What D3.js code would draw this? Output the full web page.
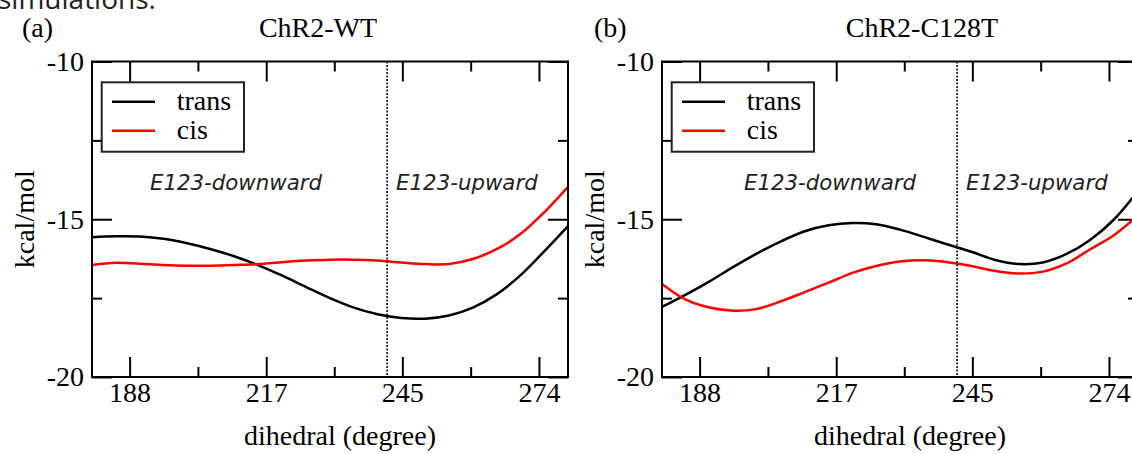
<!DOCTYPE html>
<html><head><meta charset="utf-8">
<script src="https://cdn.jsdelivr.net/npm/d3@7"></script>
<style>
body{margin:0;background:#fff;}
svg{display:block;}
</style>
</head><body>
<svg id="chart" width="1132" height="454"></svg>
<script>
// ---- data ----
const dihedral = [180,185,190,195,200,205,210,215,220,225,230,235,240,245,250,255,260,265,270,275,280];
const wtTrans  = [-15.57,-15.54,-15.55,-15.62,-15.76,-15.95,-16.18,-16.46,-16.79,-17.15,-17.50,-17.80,-18.01,-18.13,-18.15,-18.05,-17.80,-17.38,-16.78,-16.02,-15.22];
const wtCis    = [-16.45,-16.38,-16.41,-16.45,-16.47,-16.47,-16.45,-16.42,-16.36,-16.31,-16.28,-16.28,-16.31,-16.37,-16.42,-16.42,-16.26,-15.95,-15.47,-14.78,-13.97];
const c128tTrans = [-17.78,-17.39,-16.97,-16.51,-16.08,-15.70,-15.38,-15.19,-15.12,-15.16,-15.33,-15.56,-15.80,-16.03,-16.29,-16.42,-16.37,-16.10,-15.65,-15.00,-14.10];
const c128tCis   = [-17.05,-17.55,-17.80,-17.90,-17.84,-17.60,-17.31,-17.01,-16.70,-16.48,-16.34,-16.30,-16.36,-16.48,-16.64,-16.72,-16.66,-16.40,-15.95,-15.50,-14.88];
const xTickValues = [187.9, 216.6, 245.2, 273.9];
const xTickLabels = ["188", "217", "245", "274"];
const xMinorTicks = [202.25, 230.9, 259.55];
const yTickValues = [-20, -15, -10];
const yMinorTicks = [-17.5, -12.5];
const seriesNames = ["trans", "cis"];
const panelTitles = ["ChR2-WT", "ChR2-C128T"];
const panelLetters = ["(a)", "(b)"];
const regionLabels = ["E123-downward", "E123-upward"];
const boundaryDihedral = 242;
const xLabel = "dihedral (degree)";
const yLabel = "kcal/mol";

// ---- layout / style ----
const colors = ["#000000", "#ff0000"];
const serif = "'Liberation Serif', 'Times New Roman', serif";
const sans = "'DejaVu Sans', sans-serif";
const fs = 28;
const panels = [
  {left: 92, series: [wtTrans, wtCis], titleX: 318, letterX: 22, downX: 150},
  {left: 662, series: [c128tTrans, c128tCis], titleX: 922, letterX: 594, downX: 744}
];
const W = 476, plotTop = 61.5, plotBottom = 377;

const svg = d3.select("#chart");

svg.append("text").attr("x", -2).attr("y", 9)
  .style("font-family", "'Open Sans', sans-serif").style("font-size", "28px").attr("fill", "#222")
  .text("simulations.");

panels.forEach((p, pi) => {
  const x = d3.scaleLinear().domain([180, 280]).range([p.left, p.left + W]);
  const y = d3.scaleLinear().domain([-20, -10]).range([plotBottom, plotTop]);
  const g = svg.append("g");
  const clipId = "clip" + pi;
  svg.append("clipPath").attr("id", clipId).append("rect")
    .attr("x", p.left).attr("y", plotTop).attr("width", W).attr("height", plotBottom - plotTop);

  function styleAxis(sel) {
    sel.select(".domain").remove();
    sel.selectAll(".tick line").attr("stroke", "#000").attr("stroke-width", 2);
    sel.selectAll(".tick text").style("font-family", serif).style("font-size", fs + "px").attr("fill", "#000");
  }
  // major ticks
  g.append("g").attr("transform", `translate(0,${plotBottom})`)
    .call(d3.axisBottom(x).tickValues(xTickValues).tickFormat((d, i) => xTickLabels[i]).tickSize(-20).tickSizeOuter(0).tickPadding(5))
    .call(styleAxis);
  g.append("g").attr("transform", `translate(0,${plotTop})`)
    .call(d3.axisTop(x).tickValues(xTickValues).tickFormat("").tickSize(-20).tickSizeOuter(0))
    .call(styleAxis);
  g.append("g").attr("transform", `translate(0,${plotBottom})`)
    .call(d3.axisBottom(x).tickValues(xMinorTicks).tickFormat("").tickSize(-10).tickSizeOuter(0))
    .call(styleAxis);
  g.append("g").attr("transform", `translate(0,${plotTop})`)
    .call(d3.axisTop(x).tickValues(xMinorTicks).tickFormat("").tickSize(-10).tickSizeOuter(0))
    .call(styleAxis);
  g.append("g").attr("transform", `translate(${p.left},0)`)
    .call(d3.axisLeft(y).tickValues(yTickValues).tickFormat(d => String(d)).tickSize(-20).tickSizeOuter(0).tickPadding(8))
    .call(styleAxis);
  g.append("g").attr("transform", `translate(${p.left + W},0)`)
    .call(d3.axisRight(y).tickValues(yTickValues).tickFormat("").tickSize(-20).tickSizeOuter(0))
    .call(styleAxis);
  g.append("g").attr("transform", `translate(${p.left},0)`)
    .call(d3.axisLeft(y).tickValues(yMinorTicks).tickFormat("").tickSize(-10).tickSizeOuter(0))
    .call(styleAxis);
  g.append("g").attr("transform", `translate(${p.left + W},0)`)
    .call(d3.axisRight(y).tickValues(yMinorTicks).tickFormat("").tickSize(-10).tickSizeOuter(0))
    .call(styleAxis);

  // curves
  const line = d3.line().x((d, i) => x(dihedral[i])).y(d => y(d)).curve(d3.curveCatmullRom.alpha(0.5));
  p.series.forEach((s, si) => {
    g.append("path").datum(s).attr("d", line).attr("fill", "none")
      .attr("stroke", colors[si]).attr("stroke-width", 2.5).attr("clip-path", `url(#${clipId})`);
  });

  // boundary dotted line
  g.append("line").attr("x1", x(boundaryDihedral)).attr("x2", x(boundaryDihedral))
    .attr("y1", plotTop).attr("y2", plotBottom).attr("stroke", "#000").attr("stroke-width", 1.5)
    .attr("stroke-dasharray", "2,1.5");

  // region labels
  g.append("text").attr("x", p.downX).attr("y", 190)
    .style("font-family", sans).style("font-style", "italic").style("font-size", "21.3px").attr("fill", "#222")
    .text(regionLabels[0]);
  g.append("text").attr("x", x(boundaryDihedral) + 9).attr("y", 190)
    .style("font-family", sans).style("font-style", "italic").style("font-size", "21.3px").attr("fill", "#222")
    .text(regionLabels[1]);

  // legend
  const lg = g.append("g").attr("transform", `translate(${p.left + 9.7},82.3)`);
  lg.append("rect").attr("width", 142.3).attr("height", 69.4).attr("fill", "#fff")
    .attr("stroke", "#222").attr("stroke-width", 2);
  seriesNames.forEach((n, i) => {
    const ly = 19.4 + i * 29;
    lg.append("line").attr("x1", 10.3).attr("x2", 53.3).attr("y1", ly).attr("y2", ly)
      .attr("stroke", colors[i]).attr("stroke-width", 2.5);
    lg.append("text").attr("x", 75).attr("y", ly + 8.5)
      .style("font-family", serif).style("font-size", fs + "px").attr("fill", "#000").text(n);
  });

  // frame
  g.append("rect").attr("x", p.left).attr("y", plotTop).attr("width", W).attr("height", plotBottom - plotTop)
    .attr("fill", "none").attr("stroke", "#000").attr("stroke-width", 2);

  // titles
  g.append("text").attr("x", p.titleX).attr("y", 37).attr("text-anchor", "middle")
    .style("font-family", serif).style("font-size", fs + "px").text(panelTitles[pi]);
  g.append("text").attr("x", p.letterX).attr("y", 37)
    .style("font-family", serif).style("font-size", fs + "px").text(panelLetters[pi]);
  // axis labels
  g.append("text").attr("x", p.left + W / 2 + 10).attr("y", 445).attr("text-anchor", "middle")
    .style("font-family", serif).style("font-size", fs + "px").text(xLabel);
  g.append("text").attr("transform", `translate(${p.left - 58},${(plotTop + plotBottom) / 2}) rotate(-90)`)
    .attr("text-anchor", "middle")
    .style("font-family", serif).style("font-size", fs + "px").text(yLabel);
});
</script>
</body></html>
